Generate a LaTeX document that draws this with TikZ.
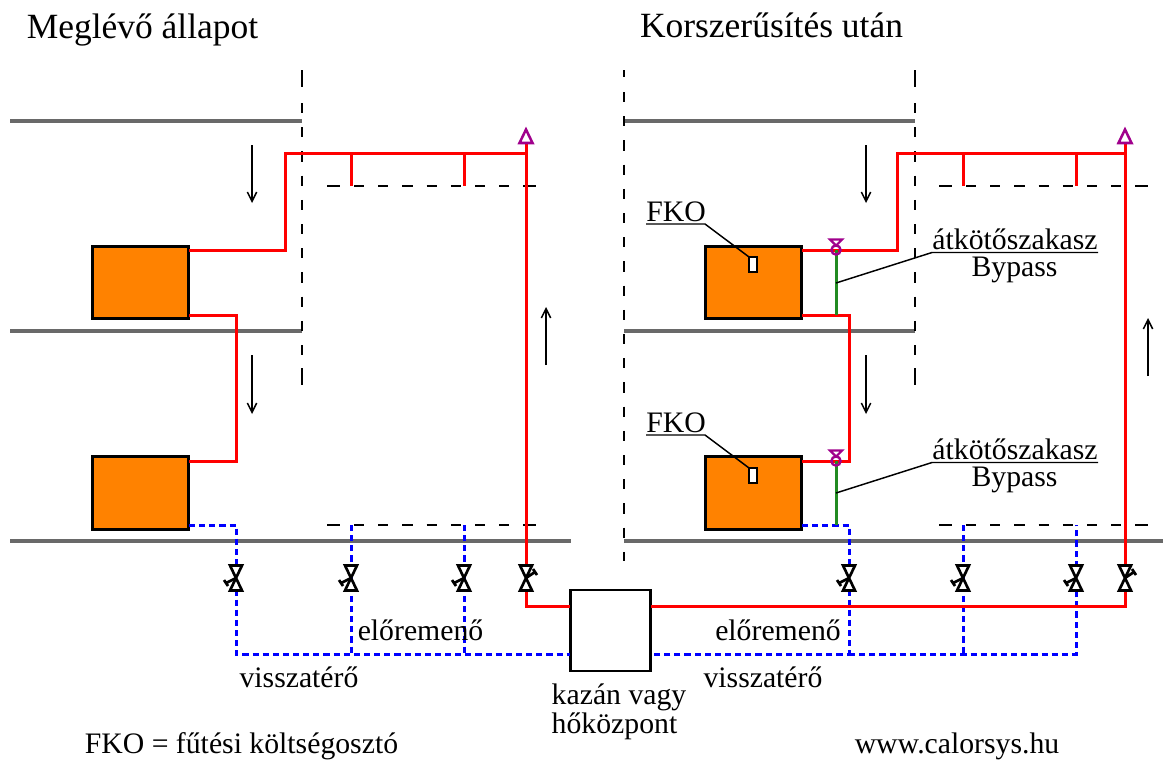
\documentclass[tikz,border=0pt]{standalone}
\usepackage{fontspec}
\setmainfont{Liberation Serif}
\usetikzlibrary{arrows.meta}
\definecolor{pipered}{RGB}{255,0,0}
\definecolor{pipeblue}{RGB}{0,0,255}
\definecolor{floorgray}{RGB}{105,105,105}
\definecolor{radorange}{RGB}{255,130,0}
\definecolor{bypassgreen}{RGB}{34,139,34}
\definecolor{ventpurple}{RGB}{160,0,140}
\tikzset{
  x=0.75pt,y=-0.75pt,
  floor/.style={draw=floorgray,line width=2.4pt},
  partsolid/.style={draw=black,line width=1.5pt},
  partition/.style={draw=black,line width=1.5pt,dash pattern=on 7.7pt off 10.45pt},
  flowpipe/.style={draw=pipered,line width=2.25pt},
  returnpipe/.style={draw=pipeblue,line width=2.25pt,dash pattern=on 4.6pt off 3pt},
  bypasspipe/.style={draw=bypassgreen,line width=2.25pt},
  flowarrow/.style={draw=black,line width=1.1pt,-{Straight Barb[length=7pt,width=7pt]}},
  radiator/.style={draw=black,fill=radorange,line width=2.25pt,outer sep=0pt,minimum width=72pt,minimum height=54.4pt,inner sep=0pt,anchor=north west},
  boiler/.style={draw=black,fill=white,line width=1.8pt,outer sep=0pt,minimum width=60pt,minimum height=60.7pt,inner sep=0pt,anchor=north west},
  meter/.style={draw=black,fill=white,line width=1.5pt,outer sep=0pt,minimum width=6pt,minimum height=11.3pt,inner sep=0pt},
  leader/.style={draw=black,line width=1.1pt},
  txt/.style={font=\fontsize{22.3}{24}\selectfont,inner sep=0pt,anchor=base},
  head/.style={font=\fontsize{26.6}{28}\selectfont,inner sep=0pt,anchor=base},
  valveL/.pic={
    \draw[fill=white,line width=2pt,line join=miter] (-6,-12.5)--(6,-12.5)--(-6,12.5)--(6,12.5)--cycle;
    \draw[line width=2pt] (0,0)--(-10,5) (-12,2)--(-8,8);
  },
  valveR/.pic={
    \draw[fill=white,line width=2pt,line join=miter] (-6,-12.5)--(6,-12.5)--(-6,12.5)--(6,12.5)--cycle;
    \draw[line width=2pt] (0,0)--(9,-6) (7,-9)--(11,-3);
  },
  ventvalve/.pic={
    \draw[ventpurple,line width=1.6pt] (-6,-10.5)--(6,-10.5)--(0,-4.5)--cycle;
    \draw[ventpurple,line width=1.8pt] (0,0) circle (4.6);
  },
  airvent/.pic={
    \draw[ventpurple,line width=1.9pt,fill=white,line join=miter] (-6.5,0)--(6.5,0)--(0,-13.5)--cycle;
  },
}
\begin{document}
\begin{tikzpicture}
\useasboundingbox (0,0) rectangle (1163,760);

% floors
\draw[floor] (10,121)--(302,121);
\draw[floor] (10,331)--(302,331);
\draw[floor] (10,541)--(571,541);
\draw[floor] (624,121)--(915,121);
\draw[floor] (624,331)--(915,331);
\draw[floor] (624,541)--(1163,541);

% vertical partitions
\draw[partsolid] (302,70)--(302,87) (302,368)--(302,385);
\draw[partition] (302,103)--(302,355);
\draw[partsolid] (915,70)--(915,87) (915,368)--(915,385);
\draw[partition] (915,103)--(915,355);
\draw[partsolid] (624,70)--(624,77);
\draw[partition] (624,92)--(624,561);
% horizontal partitions
\foreach \yy in {186,525}{
  \draw[partsolid] (327,\yy)--(340,\yy) (523,\yy)--(536,\yy);
  \draw[partition] (354,\yy)--(510,\yy);
  \draw[partsolid] (939,\yy)--(952,\yy) (1135,\yy)--(1148,\yy);
  \draw[partition] (966,\yy)--(1122,\yy);
}

% main components
\node[boiler] (boiler) at (570.5,590) {};
\node[radiator] (radA) at (92.2,246.2) {};
\node[radiator] (radB) at (92.2,456.7) {};
\node[radiator] (radC) at (705.2,246.2) {};
\node[radiator] (radD) at (705.2,456.7) {};

% coordinates of pipe bends, left
\coordinate (aTop) at (285,153);
\coordinate (aRiser) at (526,153);
\coordinate (aVent) at (526,143);
\coordinate (aTee1) at (351,153);
\coordinate (aTee2) at (464,153);
\coordinate (aTee1b) at (351,186);
\coordinate (aTee2b) at (464,186);
\coordinate (aBoilIn) at (570,606);
\coordinate (aBoilOut) at (570,654);
\coordinate (aLink) at (236,315);
\coordinate (aLinkB) at (236,461);
\coordinate (bRet) at (236,525);
\coordinate (bRetDown) at (236,654);
\coordinate (bR1) at (351,525);
\coordinate (bR1d) at (351,654);
\coordinate (bR2) at (464,525);
\coordinate (bR2d) at (464,654);

% coordinates of pipe bends, right
\coordinate (cTop) at (897,153);
\coordinate (cRiser) at (1125,153);
\coordinate (cVent) at (1125,143);
\coordinate (cTee1) at (963,153);
\coordinate (cTee2) at (1076,153);
\coordinate (cTee1b) at (963,186);
\coordinate (cTee2b) at (1076,186);
\coordinate (cBoilOut) at (651,606);
\coordinate (cBoilRet) at (651,654);
\coordinate (cLink) at (849,315);
\coordinate (cLinkB) at (849,461);
\coordinate (dRet) at (849,525);
\coordinate (dRetDown) at (849,654);
\coordinate (dR1) at (963,525);
\coordinate (dR1d) at (963,654);
\coordinate (dR2) at (1076,525);
\coordinate (dR2d) at (1076,654);
\coordinate (by1t) at (836,250);
\coordinate (by1b) at (836,315);
\coordinate (by2t) at (836,461);
\coordinate (by2b) at (836,525);

% return pipes
\draw[returnpipe] (189,525)--(bRet)--(bRetDown)--(aBoilOut);
\draw[returnpipe] (bR1)--(bR1d);
\draw[returnpipe] (bR2)--(bR2d);
\draw[returnpipe] (802,525)--(dRet)--(dRetDown)--(cBoilRet);
\draw[returnpipe] (dRetDown)--(dR2d)--(dR2);
\draw[returnpipe] (dR1)--(dR1d);

% flow pipes, left
\draw[flowpipe] (189,250)-|(aTop)--(aRiser);
\draw[flowpipe] (aVent)--(526,606)--(aBoilIn);
\draw[flowpipe] (aTee1)--(aTee1b);
\draw[flowpipe] (aTee2)--(aTee2b);
\draw[flowpipe] (189,315)--(aLink)--(aLinkB)--(189,461);
% flow pipes, right
\draw[flowpipe] (802,250)-|(cTop)--(cRiser);
\draw[flowpipe] (cVent)--(1125,606)--(cBoilOut);
\draw[flowpipe] (cTee1)--(cTee1b);
\draw[flowpipe] (cTee2)--(cTee2b);
\draw[flowpipe] (802,315)--(cLink)--(cLinkB)--(802,461);
% bypass
\draw[bypasspipe] (by1t)--(by1b);
\draw[bypasspipe] (by2t)--(by2b);

% valves
\pic at (236,578) {valveL};
\pic at (351,578) {valveL};
\pic at (464,578) {valveL};
\pic at (526,578) {valveR};
\pic at (849,578) {valveL};
\pic at (963,578) {valveL};
\pic at (1076,578) {valveL};
\pic at (1125,578) {valveR};
\pic at (836,250) {ventvalve};
\pic at (836,461) {ventvalve};
\pic at (526,143) {airvent};
\pic at (1125,143) {airvent};

% flow arrows
\draw[flowarrow] (252,145)--(252,203);
\draw[flowarrow] (252,355)--(252,414);
\draw[flowarrow] (546,365)--(546,307);
\draw[flowarrow] (866,145)--(866,203);
\draw[flowarrow] (866,355)--(866,414);
\draw[flowarrow] (1148,376)--(1148,318);

% meters and leaders
\node[meter] (m1) at (753,264.5) {};
\node[meter] (m2) at (753,475.5) {};
\node[txt] (fko1) at (676,221) {FKO};
\node[txt] (fko2) at (676,432) {FKO};
\coordinate (u1l) at (646,224);
\coordinate (u1r) at (705,224);
\coordinate (u2l) at (646,435);
\coordinate (u2r) at (705,435);
\draw[leader] (u1l)--(u1r)--(m1.north west);
\draw[leader] (u2l)--(u2r)--(m2.north west);

\node[txt] (at1) at (1015,249.5) {átkötőszakasz};
\node[txt] (by1) at (1014.5,276) {Bypass};
\node[txt] (at2) at (1015,459.5) {átkötőszakasz};
\node[txt] (by2) at (1014.5,486) {Bypass};
\coordinate (v1l) at (932,252.5);
\coordinate (v1r) at (1098,252.5);
\coordinate (v2l) at (932,462.5);
\coordinate (v2r) at (1098,462.5);
\coordinate (l1) at (836,283);
\coordinate (l2) at (836,493);
\draw[leader] (v1r)--(v1l)--(l1);
\draw[leader] (v2r)--(v2l)--(l2);

% titles and labels
\node[head] (t1) at (142.5,38) {Meglévő állapot};
\node[head] (t2) at (771.5,37) {Korszerűsítés után};
\node[txt] (e1) at (420.5,640) {előremenő};
\node[txt] (e2) at (778,640) {előremenő};
\node[txt] (v1) at (299,687) {visszatérő};
\node[txt] (v2) at (763,687) {visszatérő};
\node[txt] (k1) at (619,704) {kazán vagy};
\node[txt] (k2) at (614.5,733) {hőközpont};
\node[txt] (fk) at (241.5,753) {FKO = fűtési költségosztó};
\node[txt] (web) at (957,753) {www.calorsys.hu};
\end{tikzpicture}
\end{document}
